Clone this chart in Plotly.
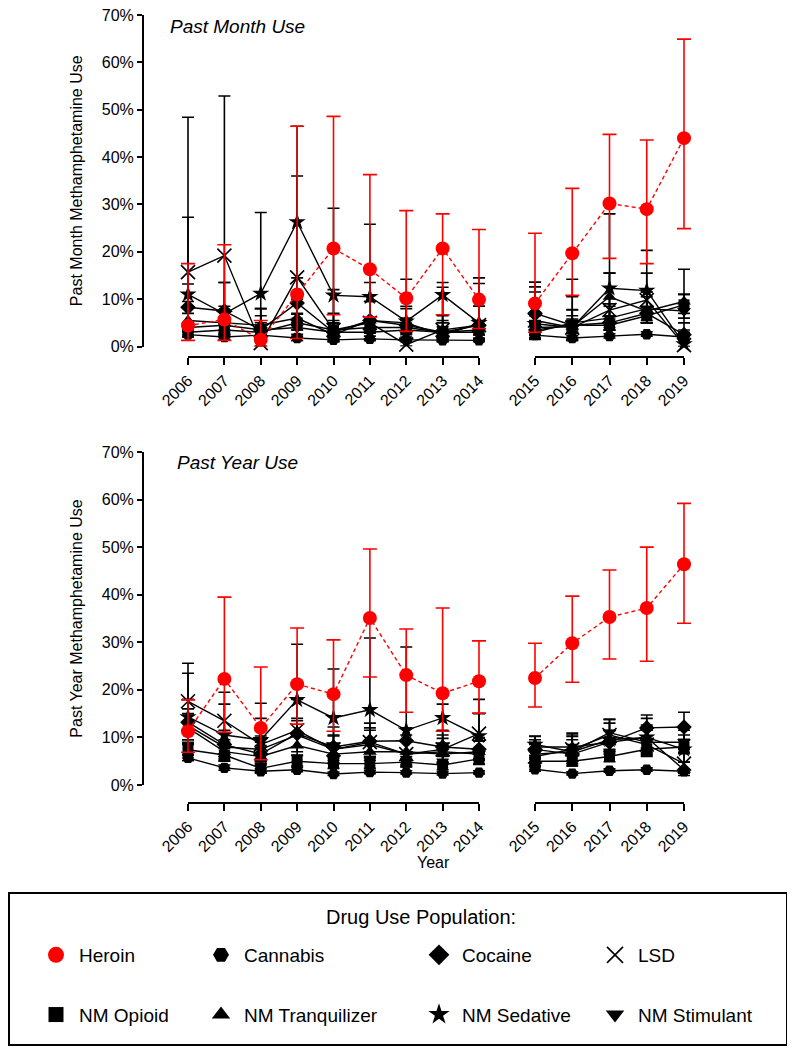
import plotly.graph_objects as go

# ---------------- data ----------------
years_a = [2006, 2007, 2008, 2009, 2010, 2011, 2012, 2013, 2014]
years_b = [2015, 2016, 2017, 2018, 2019]
y_ticks = [0, 10, 20, 30, 40, 50, 60, 70]
y_tick_labels = ["0%", "10%", "20%", "30%", "40%", "50%", "60%", "70%"]

# Past month (values, lower CI, upper CI), 2006-2019
pm_heroin = [4.4, 5.7, 1.4, 11.0, 20.7, 16.3, 10.2, 20.7, 9.9, 9.1, 19.7, 30.2, 29.0, 44.0]
pm_heroin_lo = [1.3, 1.3, 0.0, 1.7, 6.7, 6.2, 3.2, 6.7, 3.8, 3.0, 10.8, 18.6, 17.5, 24.9]
pm_heroin_hi = [17.5, 21.5, 5.5, 46.5, 48.6, 36.3, 28.7, 28.0, 24.7, 23.9, 33.4, 44.8, 43.6, 64.9]

pm_cannabis = [2.5, 2.0, 2.4, 1.8, 1.4, 1.6, 1.4, 1.3, 1.3, 2.4, 1.8, 2.2, 2.6, 2.0]
pm_cannabis_lo = [2.0, 1.5, 1.6, 1.2, 1.0, 1.2, 1.0, 1.0, 1.0, 1.9, 1.4, 1.8, 2.2, 1.5]
pm_cannabis_hi = [3.2, 2.7, 3.5, 2.6, 2.0, 2.2, 2.0, 1.8, 1.8, 3.0, 2.3, 2.7, 3.1, 2.6]

pm_cocaine = [8.3, 7.5, 3.5, 9.2, 3.0, 5.5, 4.5, 3.0, 4.5, 7.0, 4.5, 5.0, 7.0, 2.5]
pm_cocaine_lo = [4.0, 3.5, 1.5, 5.0, 1.5, 3.0, 2.5, 1.5, 2.5, 4.5, 3.0, 3.5, 5.0, 1.2]
pm_cocaine_hi = [13.2, 13.5, 8.0, 14.5, 7.0, 9.5, 8.0, 6.5, 8.5, 11.5, 7.7, 8.5, 10.5, 5.0]

pm_lsd = [15.7, 19.2, 0.7, 14.6, 3.5, 5.0, 0.4, 3.5, 4.5, 5.5, 4.0, 7.7, 9.8, 0.3]
pm_lsd_lo = [5.0, 6.0, 0.1, 5.5, 1.0, 1.5, 0.1, 1.0, 1.5, 2.5, 1.5, 3.5, 5.0, 0.0]
pm_lsd_hi = [48.4, 52.9, 5.0, 36.0, 12.0, 13.5, 4.0, 12.5, 13.3, 12.6, 10.5, 15.5, 15.5, 3.0]

pm_opioid = [3.0, 3.5, 3.0, 5.0, 3.5, 4.0, 4.0, 3.0, 3.5, 3.5, 4.5, 4.5, 6.5, 8.8]
pm_opioid_lo = [2.0, 2.4, 1.8, 3.5, 2.5, 2.8, 2.8, 2.0, 2.5, 2.5, 3.5, 3.5, 5.0, 7.0]
pm_opioid_hi = [4.5, 5.0, 4.5, 6.8, 4.8, 5.5, 5.5, 4.2, 4.8, 4.8, 5.8, 5.8, 8.3, 11.0]

pm_tranq = [5.5, 5.0, 4.5, 6.0, 2.5, 5.5, 5.0, 2.5, 4.8, 4.0, 4.2, 10.5, 7.5, 9.5]
pm_tranq_lo = [3.0, 3.0, 2.5, 3.5, 1.2, 3.0, 3.0, 1.2, 2.5, 2.5, 2.8, 6.5, 5.0, 6.0]
pm_tranq_hi = [9.5, 8.5, 8.0, 10.0, 5.0, 9.5, 8.5, 5.0, 8.5, 6.5, 6.5, 15.5, 11.5, 16.3]

pm_sedative = [11.0, 6.9, 11.2, 26.3, 10.8, 10.5, 5.3, 10.9, 5.0, 4.8, 4.0, 12.3, 11.8, 0.5]
pm_sedative_lo = [3.5, 2.0, 3.5, 9.0, 3.0, 3.5, 1.5, 5.0, 1.5, 1.5, 1.2, 5.0, 5.0, 0.0]
pm_sedative_hi = [27.3, 13.5, 28.3, 46.5, 29.2, 25.8, 14.2, 13.5, 14.5, 13.6, 14.2, 28.0, 20.3, 3.5]

pm_stimulant = [4.0, 4.5, 3.5, 4.0, 3.0, 3.0, 3.5, 3.0, 3.0, 3.0, 5.0, 6.0, 8.0, 7.5]
pm_stimulant_lo = [2.0, 2.5, 1.8, 2.2, 1.6, 1.6, 1.8, 1.6, 1.6, 1.6, 3.0, 4.0, 5.5, 5.0]
pm_stimulant_hi = [7.0, 7.5, 6.5, 7.0, 5.5, 5.5, 6.0, 5.5, 5.5, 5.5, 7.8, 9.0, 11.5, 11.0]

# Past year (values, lower CI, upper CI), 2006-2019
py_heroin = [11.3, 22.3, 12.0, 21.2, 19.1, 35.1, 23.1, 19.3, 21.8, 22.5, 29.8, 35.3, 37.2, 46.4]
py_heroin_lo = [6.9, 11.1, 5.3, 12.8, 11.3, 22.7, 15.3, 11.3, 15.1, 16.4, 21.6, 26.5, 26.0, 34.0]
py_heroin_hi = [17.9, 39.5, 24.8, 33.0, 30.5, 49.6, 32.8, 37.2, 30.3, 29.8, 39.7, 45.2, 50.0, 59.2]

py_cannabis = [5.7, 3.6, 2.9, 3.2, 2.3, 2.7, 2.6, 2.4, 2.6, 3.3, 2.4, 3.0, 3.2, 2.9]
py_cannabis_lo = [5.1, 3.1, 2.5, 2.8, 2.0, 2.4, 2.3, 2.1, 2.3, 2.9, 2.1, 2.7, 2.9, 2.6]
py_cannabis_hi = [6.4, 4.2, 3.4, 3.7, 2.7, 3.1, 3.0, 2.8, 3.0, 3.8, 2.8, 3.4, 3.6, 3.3]

py_cocaine = [13.2, 8.5, 6.5, 10.8, 8.0, 9.2, 9.3, 8.0, 7.5, 7.5, 6.5, 9.0, 12.0, 12.2]
py_cocaine_lo = [9.0, 6.0, 4.5, 8.0, 6.0, 7.0, 7.0, 6.0, 5.5, 5.8, 5.0, 7.0, 9.5, 9.5]
py_cocaine_hi = [18.0, 11.5, 9.0, 14.0, 10.5, 12.0, 12.0, 10.5, 10.0, 9.5, 8.5, 11.5, 14.7, 15.3]

py_lsd = [17.6, 13.5, 8.5, 11.5, 7.5, 9.0, 6.5, 7.5, 10.8, 6.0, 7.5, 10.5, 8.5, 4.5]
py_lsd_lo = [11.5, 9.0, 5.0, 7.0, 4.5, 6.0, 4.0, 4.5, 7.5, 4.0, 5.0, 7.5, 6.0, 2.5]
py_lsd_hi = [25.6, 19.5, 14.0, 18.0, 12.2, 13.0, 10.5, 11.5, 15.0, 8.5, 10.5, 13.8, 11.5, 7.5]

py_opioid = [7.4, 6.3, 3.5, 5.0, 4.5, 4.5, 4.8, 4.2, 5.5, 5.0, 5.0, 6.0, 7.5, 8.0]
py_opioid_lo = [6.2, 5.1, 2.6, 4.0, 3.5, 3.5, 3.8, 3.2, 4.4, 4.0, 4.0, 4.9, 6.2, 6.6]
py_opioid_hi = [8.8, 7.7, 4.6, 6.2, 5.7, 5.7, 6.0, 5.4, 6.8, 6.2, 6.2, 7.3, 9.0, 9.6]

py_tranq = [12.0, 7.0, 6.0, 8.3, 6.5, 7.0, 7.0, 6.5, 7.0, 8.0, 8.0, 9.0, 10.0, 3.2]
py_tranq_lo = [9.5, 5.0, 4.2, 6.3, 4.7, 5.2, 5.2, 4.7, 5.2, 6.2, 6.2, 7.0, 7.8, 2.0]
py_tranq_hi = [15.0, 9.5, 8.3, 10.8, 8.8, 9.3, 9.3, 8.8, 9.3, 10.2, 10.2, 11.4, 12.6, 4.8]

py_sedative = [14.3, 10.5, 9.5, 17.9, 14.1, 15.8, 11.5, 14.1, 10.3, 8.5, 7.0, 9.5, 10.0, 7.5]
py_sedative_lo = [8.5, 6.0, 5.0, 11.0, 8.0, 9.0, 5.5, 8.0, 5.5, 5.5, 4.5, 6.5, 6.5, 4.8]
py_sedative_hi = [23.5, 17.0, 17.2, 29.6, 24.4, 30.9, 29.0, 17.0, 18.0, 10.3, 10.9, 13.0, 14.0, 10.5]

py_stimulant = [12.5, 8.0, 7.5, 10.5, 7.5, 8.5, 6.5, 7.0, 6.5, 6.5, 7.0, 11.0, 9.0, 9.0]
py_stimulant_lo = [9.5, 5.5, 5.2, 8.0, 5.2, 6.0, 4.3, 4.8, 4.3, 4.5, 5.0, 8.5, 6.8, 6.8]
py_stimulant_hi = [16.0, 11.0, 10.3, 13.5, 10.3, 11.5, 9.2, 9.8, 9.2, 9.0, 9.5, 13.8, 11.5, 11.5]

series_names = ["Cannabis", "Cocaine", "LSD", "NM Opioid", "NM Tranquilizer",
                "NM Sedative", "NM Stimulant", "Heroin"]

past_month = {
    "Heroin": (pm_heroin, pm_heroin_lo, pm_heroin_hi),
    "Cannabis": (pm_cannabis, pm_cannabis_lo, pm_cannabis_hi),
    "Cocaine": (pm_cocaine, pm_cocaine_lo, pm_cocaine_hi),
    "LSD": (pm_lsd, pm_lsd_lo, pm_lsd_hi),
    "NM Opioid": (pm_opioid, pm_opioid_lo, pm_opioid_hi),
    "NM Tranquilizer": (pm_tranq, pm_tranq_lo, pm_tranq_hi),
    "NM Sedative": (pm_sedative, pm_sedative_lo, pm_sedative_hi),
    "NM Stimulant": (pm_stimulant, pm_stimulant_lo, pm_stimulant_hi),
}
past_year = {
    "Heroin": (py_heroin, py_heroin_lo, py_heroin_hi),
    "Cannabis": (py_cannabis, py_cannabis_lo, py_cannabis_hi),
    "Cocaine": (py_cocaine, py_cocaine_lo, py_cocaine_hi),
    "LSD": (py_lsd, py_lsd_lo, py_lsd_hi),
    "NM Opioid": (py_opioid, py_opioid_lo, py_opioid_hi),
    "NM Tranquilizer": (py_tranq, py_tranq_lo, py_tranq_hi),
    "NM Sedative": (py_sedative, py_sedative_lo, py_sedative_hi),
    "NM Stimulant": (py_stimulant, py_stimulant_lo, py_stimulant_hi),
}

# ---------------- styles ----------------
styles = {
    "Heroin": dict(symbol="circle", size=14, color="#ff0000"),
    "Cannabis": dict(symbol="hexagon2", size=12, color="black"),
    "Cocaine": dict(symbol="diamond", size=12, color="black"),
    "LSD": dict(symbol="x-thin", size=14, color="black"),
    "NM Opioid": dict(symbol="square", size=11, color="black"),
    "NM Tranquilizer": dict(symbol="triangle-up", size=12, color="black"),
    "NM Sedative": dict(symbol="star", size=13, color="black"),
    "NM Stimulant": dict(symbol="triangle-down", size=12, color="black"),
}
legend_cols = {
    "Heroin": "legend", "NM Opioid": "legend",
    "Cannabis": "legend2", "NM Tranquilizer": "legend2",
    "Cocaine": "legend3", "NM Sedative": "legend3",
    "LSD": "legend4", "NM Stimulant": "legend4",
}
legend_order = ["Heroin", "NM Opioid", "Cannabis", "NM Tranquilizer",
                "Cocaine", "NM Sedative", "LSD", "NM Stimulant"]

# the page body has an 8px margin, so the figure starts at (8, 8)
OFF = 8
W, H = 795 - OFF, 1050 - OFF
FONT = "Liberation Sans, Arial, sans-serif"


def pxx(x):
    return (x - OFF) / W


def pxy(y):
    return 1 - (y - OFF) / H


def marker_for(name, legend=False):
    st = styles[name]
    size = st["size"] + (4 if legend else 0)
    m = dict(symbol=st["symbol"], size=size, color=st["color"])
    if st["symbol"] == "x-thin":
        m["line"] = dict(color=st["color"], width=1.6)
    else:
        m["line"] = dict(color=st["color"], width=0)
    return m


fig = go.Figure()

panels = [(past_month, "y", "x", "x2"), (past_year, "y2", "x3", "x4")]
n_a = len(years_a)
for data, yref, xa, xb in panels:
    for name in series_names:
        vals, lo, hi = data[name]
        st = styles[name]
        red = name == "Heroin"
        for xs, sl, xref in [(years_a, slice(0, n_a), xa), (years_b, slice(n_a, None), xb)]:
            v = vals[sl]
            l = lo[sl]
            h = hi[sl]
            fig.add_trace(go.Scatter(
                x=xs, y=v, xaxis=xref, yaxis=yref, mode="lines+markers",
                line=dict(color=st["color"], width=1.4, dash="4px,3px" if red else "solid"),
                marker=marker_for(name),
                error_y=dict(type="data", symmetric=False,
                             array=[b - a for a, b in zip(v, h)],
                             arrayminus=[a - b for a, b in zip(v, l)],
                             color=st["color"], thickness=1.6,
                             width=7 if red else 6),
                cliponaxis=False, showlegend=False, hoverinfo="skip",
            ))

# invisible traces that carry the offset year axes
for xref, yref, xs in [("x5", "y", years_a), ("x6", "y", years_b),
                       ("x7", "y2", years_a), ("x8", "y2", years_b)]:
    fig.add_trace(go.Scatter(x=xs, y=[None] * len(xs), xaxis=xref, yaxis=yref,
                             mode="markers", showlegend=False, hoverinfo="skip"))

# legend entries
for name in legend_order:
    fig.add_trace(go.Scatter(
        x=[None], y=[None], xaxis="x", yaxis="y", mode="markers",
        marker=marker_for(name, legend=True), name=name, legend=legend_cols[name],
        legendgroup=name, showlegend=True))

# ---------------- axes ----------------
A0, A1 = 188, 479          # pixel of 2006 / 2014
B0, B1 = 535, 684          # pixel of 2015 / 2019
sa = (A1 - A0) / (years_a[-1] - years_a[0])
sb = (B1 - B0) / (years_b[-1] - years_b[0])
da = (143, 490)
db = (515, 705)
range_a = [years_a[0] - (A0 - da[0]) / sa, years_a[0] + (da[1] - A0) / sa]
range_b = [years_b[0] - (B0 - db[0]) / sb, years_b[0] + (db[1] - B0) / sb]

hidden = dict(visible=False, showgrid=False, zeroline=False, fixedrange=True, automargin=False)
lay = {}
lay["xaxis"] = dict(hidden, domain=[pxx(da[0]), pxx(da[1])], range=range_a, anchor="y")
lay["xaxis2"] = dict(hidden, domain=[pxx(db[0]), pxx(db[1])], range=range_b, anchor="y")
lay["xaxis3"] = dict(hidden, domain=[pxx(da[0]), pxx(da[1])], range=range_a, anchor="y2")
lay["xaxis4"] = dict(hidden, domain=[pxx(db[0]), pxx(db[1])], range=range_b, anchor="y2")

year_axis = dict(showgrid=False, zeroline=False, showline=True, linecolor="black",
                 linewidth=2, ticks="outside", ticklen=7, tickwidth=2, tickcolor="black",
                 tickangle=-45, tickfont=dict(family=FONT, size=16, color="black"),
                 anchor="free", fixedrange=True, automargin=False, ticklabeloverflow="allow")
lay["xaxis5"] = dict(year_axis, domain=[pxx(A0), pxx(A1)], range=[years_a[0], years_a[-1]],
                     tickvals=years_a, position=pxy(357))
lay["xaxis6"] = dict(year_axis, domain=[pxx(B0), pxx(B1)], range=[years_b[0], years_b[-1]],
                     tickvals=years_b, position=pxy(357))
lay["xaxis7"] = dict(year_axis, domain=[pxx(A0), pxx(A1)], range=[years_a[0], years_a[-1]],
                     tickvals=years_a, position=pxy(803))
lay["xaxis8"] = dict(year_axis, domain=[pxx(B0), pxx(B1)], range=[years_b[0], years_b[-1]],
                     tickvals=years_b, position=pxy(803))

y_axis = dict(range=[0, 70], tickmode="array", tickvals=y_ticks, ticktext=y_tick_labels,
              showgrid=False, zeroline=False,
              showline=True, linecolor="black", linewidth=2, ticks="outside", ticklen=5,
              tickwidth=2, tickcolor="black", tickfont=dict(family=FONT, size=16, color="black"),
              anchor="free", position=pxx(143), fixedrange=True, automargin=False,
              ticklabeloverflow="allow")
lay["yaxis"] = dict(y_axis, domain=[pxy(346.5), pxy(15)],
                    title=dict(text="Past Month Methamphetamine Use",
                               font=dict(family=FONT, size=16, color="black"), standoff=14))
lay["yaxis2"] = dict(y_axis, domain=[pxy(785), pxy(452)],
                     title=dict(text="Past Year Methamphetamine Use",
                                font=dict(family=FONT, size=16, color="black"), standoff=14))

leg_common = dict(orientation="v", yanchor="top", y=pxy(936), xanchor="left",
                  bgcolor="rgba(0,0,0,0)", borderwidth=0, itemwidth=36,
                  tracegroupgap=32, font=dict(family=FONT, size=19, color="black"),
                  itemclick=False, itemdoubleclick=False)
lay["legend"] = dict(leg_common, x=pxx(33))
lay["legend2"] = dict(leg_common, x=pxx(198))
lay["legend3"] = dict(leg_common, x=pxx(416))
lay["legend4"] = dict(leg_common, x=pxx(592))

fig.update_layout(
    width=W, height=H, margin=dict(l=0, r=0, t=0, b=0, pad=0, autoexpand=False),
    paper_bgcolor="white", plot_bgcolor="rgba(0,0,0,0)",
    font=dict(family=FONT, color="black"),
    **lay,
    annotations=[
        dict(text="<i>Past Month Use</i>", x=pxx(168), y=pxy(27), xref="paper", yref="paper",
             xanchor="left", yanchor="middle", showarrow=False,
             font=dict(family=FONT, size=19, color="black")),
        dict(text="<i>Past Year Use</i>", x=pxx(175), y=pxy(462), xref="paper", yref="paper",
             xanchor="left", yanchor="middle", showarrow=False,
             font=dict(family=FONT, size=19, color="black")),
        dict(text="Year", x=pxx(433), y=pxy(862), xref="paper", yref="paper",
             xanchor="center", yanchor="middle", showarrow=False,
             font=dict(family=FONT, size=16, color="black")),
        dict(text="Drug Use Population:", x=pxx(421), y=pxy(917), xref="paper", yref="paper",
             xanchor="center", yanchor="middle", showarrow=False,
             font=dict(family=FONT, size=20, color="black")),
    ],
    shapes=[dict(type="rect", xref="paper", yref="paper", x0=pxx(9), x1=pxx(787),
                 y0=pxy(1045), y1=pxy(893), line=dict(color="black", width=2))],
)

fig.write_html("out.html")
